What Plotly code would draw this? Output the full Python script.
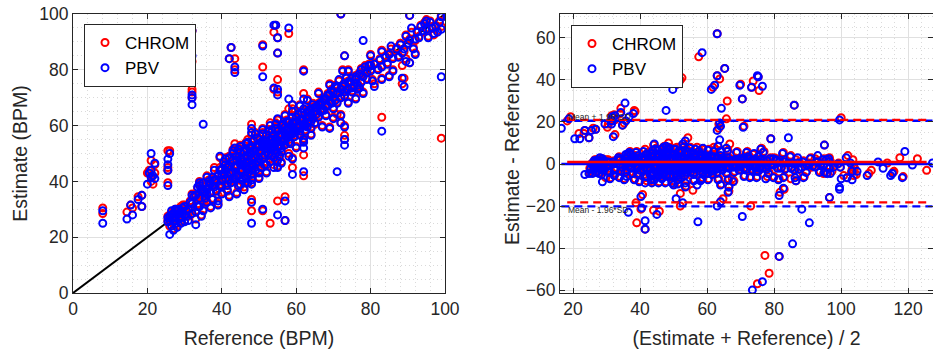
import numpy as np
import plotly.graph_objects as go

# ---------------- data ----------------
# Heart-rate reference and the two camera-based estimates, one entry per window.
reference_bpm = [
    # low-reference outliers
    8, 8, 14.5, 15.5, 16, 17.5, 18.5, 18.5, 20, 20.5,
    21, 21, 21.5, 22, 22, 21, 25.5, 25.5, 25.5, 25.5,
    26,
    # other outliers
    32, 32, 32, 32, 32, 35, 42.5, 42, 43.5, 43.5,
    48, 48, 51, 53, 55, 57, 57, 51, 51, 54,
    54.5, 55, 55, 55, 54, 55, 58, 58, 59, 62,
    62, 62, 62, 59, 59, 71, 73, 73, 73, 72,
    78, 83, 89, 88.5, 99, 72, 89, 103.5, 104.5, 103.5,
    104.5, 104.5, 104.5, 105, 105.5, 73, 90.5,
    # main band 25-41
    25.5, 25.5, 26, 26, 26.5, 26.5, 27, 27, 27.5, 27.5,
    28, 28, 28.5, 29, 29, 29.5, 30, 30, 30.5, 31,
    32, 32, 32.5, 33, 33, 33.5, 33.5, 34, 34, 34.5,
    35, 35.5, 36, 36, 36.5, 37, 37.5, 37.5, 38, 38.5,
    39, 39.5, 39.5, 40, 40, 40, 40.5,
    # main band 41-58.5
    41, 41, 41.5, 42, 42, 42.5, 43, 43, 43.5, 43.5,
    44, 44, 44.5, 45, 45, 45, 45.5, 46, 46, 46.5,
    46.5, 47, 47, 47.5, 47.5, 48, 48, 48, 48, 48,
    48, 48.5, 49, 49, 49.5, 50, 50, 50, 50.5, 51,
    51, 51.5, 52, 52, 52, 52.5, 53, 53, 53.5, 53.5,
    54, 54, 54.5, 54.5, 55, 55, 55, 55.5, 56, 56,
    56, 56.5, 57, 57, 57.5, 58, 58, 58.5,
    # main band 59-65
    59, 59, 59.5, 60, 60, 60.5, 61, 61, 61.5, 62,
    62, 62, 62.5, 63, 63, 63.5, 64, 64, 64.5, 65,
    65,
    # main band 65.5-80
    65.5, 66, 66.5, 67, 67.5, 68, 68, 68.5, 69, 69,
    69.5, 70, 70, 70.5, 71, 71, 71.5, 72, 72, 72.5,
    73, 73, 73.5, 74, 74, 74.5, 75, 75, 75.5, 76,
    76.5, 77, 77, 77.5, 78, 78, 78.5, 79, 79.5, 80,
    # main band 80.5-99
    80.5, 81, 82, 82.5, 83, 83, 83, 84, 84.5, 85,
    85, 85.5, 86, 87, 87.5, 88, 88.5, 89, 89.5, 89.5,
    90, 90.5, 90.5, 91, 91.5, 92, 92.5, 93, 93.5, 94,
    94.5, 95, 95, 95.5, 96, 96.5, 97, 97.5, 98, 98.5,
    99, 99,
    # above 100 BPM
    127, 121.5, 116, 121.5, 117.5, 117.5, 113.5, 110.5, 110.5, 106.5,
    105, 107, 105, 102.5, 100, 100.5, 103.5,
    # dense core 26-40
    26, 26.5, 27, 27.5, 28, 28.5, 29, 29.5, 30, 30.5,
    31, 31.5, 32, 33, 34, 34.5, 35, 35.5, 36, 36.5,
    37, 37.5, 38, 38.5, 39, 39.5, 40, 40,
    # dense core 40.5-60
    40.5, 41, 41.5, 41.5, 42, 42, 42.5, 43, 43, 43.5,
    44, 44, 44.5, 44.5, 45, 45, 45.5, 45.5, 46, 46,
    46.5, 46.5, 47, 47, 47, 47.5, 48, 48, 48, 48.5,
    48.5, 49, 49, 49.5, 49.5, 50, 50, 50.5, 50.5, 51,
    51, 51.5, 51.5, 52, 52, 52.5, 52.5, 53, 53, 53.5,
    53.5, 54, 54, 54, 54.5, 54.5, 55, 55, 55.5, 55.5,
    56, 56, 56.5, 56.5, 57, 57, 57.5, 57.5, 58, 58,
    58.5, 58.5, 59, 59, 59.5, 60,
    # dense core 60-80
    60, 60.5, 61, 61, 61.5, 62, 62.5, 63, 63, 63.5,
    64, 64, 64.5, 65, 65.5, 66, 66.5, 67, 67.5, 68,
    68.5, 69, 69.5, 70, 70.5, 71, 72, 72.5, 73, 74,
    75, 76, 76.5, 77.5, 79, 80,
    # wider spread around the band
    36, 37, 38, 39, 41, 42, 43, 44, 45, 46,
    47, 48, 49, 50, 51, 52, 53, 54, 55, 56,
    57, 58, 59, 60, 61, 62, 63, 64, 66, 67,
    69, 70, 74, 76, 80, 81, 86, 92, 34, 35,
]

chrom_bpm = [
    30.5, 28.5, 29, 31.5, 30.5, 34.5, 35, 31, 43, 44,
    47.5, 40, 39, 46, 43, 42, 51, 45, 39.5, 44,
    51,
    73, 72, 70, 94, 83, 34, 88, 84, 84, 80,
    33.5, 29.5, 29.5, 25, 33, 34.5, 26, 81, 89, 93.5,
    96, 91.5, 86, 76.5, 73, 72, 93, 66, 67.5, 71.5,
    80, 49.5, 42, 45, 48.5, 64, 56.5, 55, 60, 61,
    78, 63, 77, 75, 55.5, 100, 111, 46.5, 52.5, 59.5,
    102, 103, 88.5, 101, 102, 85, 99.5,
    26, 27.5, 24, 28, 25.5, 29, 27, 23, 30, 26.5,
    28.5, 24, 27, 31, 25.5, 31.5, 29, 26, 31, 27.5,
    33, 30, 35, 26.5, 29.5, 37.5, 32, 40, 35.5, 28,
    37, 33.5, 38.5, 35, 40.5, 36.5, 39, 34, 41, 37,
    35, 48.5, 45, 42, 38.5, 36, 46.5,
    41.5, 44.5, 39, 46, 42.5, 40, 47, 44, 53.5, 41.5,
    50, 45.5, 42.5, 51, 47, 38.5, 44.5, 49, 45.5, 41.5,
    52, 47.5, 43.5, 50, 46, 60.5, 56.5, 53, 48.5, 45,
    41.5, 51.5, 49.5, 46, 53.5, 51, 47.5, 44, 55, 52,
    49, 54, 57, 51, 47, 53.5, 55.5, 52, 58, 50,
    54.5, 51.5, 59.5, 56, 53, 48.5, 45.5, 57, 59.5, 55,
    51, 61, 57.5, 53.5, 59, 55, 61.5, 57.5,
    60, 63.5, 56.5, 62, 58.5, 64.5, 60.5, 57, 63, 65.5,
    61, 55.5, 58.5, 63.5, 60, 66, 62, 64.5, 68, 65.5,
    60.5,
    67, 63.5, 68.5, 66, 70, 67.5, 64, 71.5, 69, 59.5,
    73, 70.5, 66.5, 74.5, 72, 68.5, 76, 73.5, 64, 80,
    75.5, 71, 77.5, 73.5, 68.5, 76, 77.5, 72.5, 74.5, 77,
    75, 79, 74, 80.5, 78, 72, 81.5, 79.5, 82, 80,
    76.5, 82.5, 80.5, 84, 87, 81.5, 77, 85, 82.5, 86,
    78, 87.5, 84.5, 88, 85, 89.5, 81.5, 86.5, 92.5, 84,
    89, 91, 82.5, 93.5, 88, 90.5, 94, 92, 96, 93.5,
    97, 98, 95, 92, 97.5, 95.5, 92.5, 96, 94, 97.5,
    99.5, 95.5,
    124, 124, 119, 115.5, 114, 113.5, 114, 107.5, 106, 101,
    103, 102, 98.5, 104.5, 104, 99, 98,
    26.5, 27.5, 29, 24.5, 30, 29.5, 27.5, 28, 31.5, 28.5,
    30.5, 33, 35.5, 34.5, 31.5, 37.5, 39, 36.5, 33, 38,
    39.5, 41, 38.5, 40, 42.5, 39, 44, 40,
    43, 47, 45.5, 36.5, 40, 49, 44, 50.5, 40.5, 46,
    43, 48, 52, 38, 44, 49, 47.5, 41, 51, 43,
    47, 54, 49.5, 40, 45, 52.5, 50.5, 47, 43, 55,
    46, 51.5, 43.5, 48, 56, 53, 49, 51.5, 45.5, 54,
    57.5, 50, 46.5, 53, 55, 50, 58.5, 54, 48, 56,
    52, 57, 53, 49, 61, 51, 55, 58.5, 53, 49.5,
    57, 53, 58.5, 55, 60, 55.5, 62, 56, 59, 57,
    60.5, 54, 61.5, 57.5, 59, 60,
    63.5, 60, 62.5, 58.5, 65, 63, 60.5, 65.5, 61.5, 63.5,
    66.5, 59.5, 63, 67, 64.5, 68, 65.5, 69, 66, 70,
    67.5, 71.5, 68.5, 72.5, 69.5, 74, 70.5, 74.5, 72.5, 76,
    74, 78, 73.5, 76, 77, 82,
    42, 31, 45, 32, 48.5, 35, 51.5, 36, 53, 38,
    55, 39.5, 57.5, 41.5, 59, 43.5, 61, 46, 62, 47,
    64, 50, 66, 52.5, 67.5, 54.5, 69.5, 57, 72, 60,
    75, 63, 80, 70, 85.5, 75, 80, 86, 39, 30,
]

pbv_bpm = [
    29.5, 25, 26.5, 31.5, 28, 33.5, 35, 31, 39, 43,
    50, 41.5, 42, 46.5, 41, 44, 48, 46, 38.5, 44,
    50,
    71, 70, 67.5, 94, 85, 60.5, 88, 84, 81, 79,
    32.5, 25, 30, 52, 28, 33, 26, 77.5, 88.5, 96,
    96, 91.5, 86, 73, 73.5, 71, 95, 69.5, 67.5, 69.5,
    79.5, 52, 43.5, 42.5, 48, 43.5, 53, 55, 59.5, 61,
    90.5, 58, 74, 77, 77.5, 100, 110, 43.5, 48.5, 59.5,
    66.5, 76.5, 88.5, 94, 93.5, 85, 99.5,
    25.5, 27, 21, 27.5, 24, 29.5, 26, 22.5, 30, 27,
    28, 23.5, 26.5, 29.5, 25, 30.5, 28, 25.5, 29.5, 26,
    32, 28.5, 34.5, 24.5, 29, 38, 31, 39.5, 34, 27.5,
    36, 34, 37, 35.5, 40, 36, 38.5, 33.5, 40.5, 36.5,
    33, 49, 44, 42.5, 38, 35.5, 47,
    41, 44, 38.5, 45.5, 43, 39.5, 47.5, 43.5, 52, 41,
    49, 45, 42, 50.5, 46, 39, 44, 48.5, 46, 41,
    51.5, 47, 43, 50.5, 45.5, 59, 57.5, 52.5, 48, 44,
    40.5, 51, 48.5, 46.5, 53, 50.5, 47, 43, 54, 52.5,
    48.5, 53.5, 56.5, 50.5, 46, 53, 55, 52, 58.5, 49.5,
    54, 51, 59, 55.5, 52.5, 47.5, 45, 56.5, 60, 54.5,
    50.5, 60.5, 57, 53, 58.5, 54, 61, 57,
    59.5, 63, 56, 61.5, 58, 64, 60, 56.5, 62.5, 66,
    60.5, 55, 58, 63, 59.5, 65.5, 61.5, 64, 67.5, 65,
    61,
    66.5, 63, 68, 65.5, 69.5, 67, 63.5, 71, 68.5, 59,
    72.5, 70, 66, 74, 71.5, 68, 76.5, 73, 63.5, 79.5,
    75, 70.5, 77, 73, 68, 75.5, 77, 72, 74, 76.5,
    74.5, 78.5, 73.5, 80, 77.5, 71.5, 81, 79, 81.5, 79.5,
    76, 82, 80, 83.5, 86.5, 81, 76.5, 84.5, 82, 85.5,
    77.5, 88.5, 84, 87.5, 84.5, 89, 86, 87.5, 92, 83,
    89.5, 90.5, 82.5, 95, 87.5, 91, 93.5, 91.5, 95.5, 94,
    96.5, 97.5, 94.5, 91.5, 97, 95, 93, 95.5, 93.5, 97,
    99, 94.5,
    127.5, 121, 122, 115, 113, 112, 111.5, 111.5, 105, 103,
    101.5, 99.5, 98.5, 103, 103, 99, 96.5,
    26, 28, 28.5, 25, 29.5, 30, 27, 28.5, 31, 27.5,
    30, 32.5, 35, 35, 31, 37, 39.5, 36, 32.5, 38.5,
    39, 41.5, 38, 40.5, 42, 38.5, 44.5, 40.5,
    42.5, 46, 45, 37, 40.5, 48.5, 43, 50, 41, 45.5,
    42, 47.5, 51.5, 38.5, 43.5, 48, 47, 40.5, 50.5, 42,
    46.5, 53.5, 49, 39.5, 44.5, 52, 50, 46, 42.5, 54.5,
    45.5, 51, 44, 47, 55.5, 52.5, 48, 51, 45, 53.5,
    57, 49.5, 46, 52, 54.5, 49.5, 58, 53.5, 47, 55,
    51.5, 56.5, 52.5, 48.5, 60.5, 50, 54.5, 58, 52.5, 49,
    56.5, 52, 58, 54.5, 59.5, 55, 61.5, 55.5, 58.5, 56,
    60, 53.5, 61, 57, 58.5, 59.5,
    63, 59.5, 62, 58, 64.5, 62, 60, 65, 61, 63,
    66, 59, 62.5, 66.5, 64, 67.5, 65, 68.5, 65.5, 69.5,
    67, 71, 68, 72, 69, 73.5, 70, 74, 72, 75.5,
    73.5, 77.5, 73, 75.5, 76.5, 81.5,
    41.5, 30.5, 44, 31.5, 48, 34.5, 51, 35.5, 52.5, 37,
    54, 39, 57, 41, 58.5, 43, 60, 45, 62.5, 46.5,
    63.5, 49, 65, 52, 67, 54, 69, 56.5, 71.5, 59.5,
    74.5, 62.5, 79.5, 69.5, 85, 74, 79.5, 85.5, 38.5, 29.5,
]

method_names = ["CHROM", "PBV"]

# Bland-Altman summary lines (bias and limits of agreement)
chrom_bias, chrom_upper, chrom_lower = 1.0, 21.0, -18.3
pbv_bias, pbv_upper, pbv_lower = 0.0, 20.6, -20.2
loa_labels = ["Mean + 1.96*SD", "Mean - 1.96*SD"]
loa_label_pos = [22.5, -21.9]

identity_line = [0, 100]
left_ticks = [0, 20, 40, 60, 80, 100]
ba_x_ticks = [20, 40, 60, 80, 100, 120]
ba_y_ticks = [-60, -40, -20, 0, 20, 40, 60]

# ---------------- derived ----------------
ref = np.array(reference_bpm, dtype=float)
chrom = np.array(chrom_bpm, dtype=float)
pbv = np.array(pbv_bpm, dtype=float)
assert len(ref) == len(chrom) == len(pbv)
chrom_avg, chrom_diff = (chrom + ref) / 2, chrom - ref
pbv_avg, pbv_diff = (pbv + ref) / 2, pbv - ref

RED, BLUE = "#ff0000", "#0000ff"
FONT = "Liberation Sans, Arial, Helvetica, sans-serif"
AX = "#262626"

marker_red = dict(symbol="circle-open", size=7, color=RED, line=dict(width=2, color=RED))
marker_blue = dict(symbol="circle-open", size=7, color=BLUE, line=dict(width=2, color=BLUE))

fig = go.Figure()

# left: estimate vs reference
fig.add_trace(go.Scatter(x=identity_line, y=identity_line, mode="lines",
                         line=dict(color="black", width=2), showlegend=False,
                         hoverinfo="skip", xaxis="x", yaxis="y"))
fig.add_trace(go.Scatter(x=ref, y=chrom, mode="markers", name=method_names[0],
                         marker=marker_red, xaxis="x", yaxis="y", legend="legend"))
fig.add_trace(go.Scatter(x=ref, y=pbv, mode="markers", name=method_names[1],
                         marker=marker_blue, xaxis="x", yaxis="y", legend="legend"))

# right: Bland-Altman
fig.add_trace(go.Scatter(x=chrom_avg, y=chrom_diff, mode="markers", name=method_names[0],
                         marker=marker_red, xaxis="x2", yaxis="y2", legend="legend2"))
fig.add_trace(go.Scatter(x=pbv_avg, y=pbv_diff, mode="markers", name=method_names[1],
                         marker=marker_blue, xaxis="x2", yaxis="y2", legend="legend2"))


def hline(avg, level, color, dash, width):
    xs = [avg.min(), avg.max()]
    fig.add_trace(go.Scatter(x=xs, y=[level, level], mode="lines", showlegend=False,
                             hoverinfo="skip", line=dict(color=color, width=width, dash=dash),
                             xaxis="x2", yaxis="y2"))


hline(pbv_avg, pbv_bias, BLUE, "solid", 2.5)
hline(pbv_avg, pbv_upper, BLUE, "8px,5px", 2.3)
hline(pbv_avg, pbv_lower, BLUE, "8px,5px", 2.3)
hline(chrom_avg, chrom_bias, RED, "solid", 2.5)
hline(chrom_avg, chrom_upper, RED, "8px,5px", 2.3)
hline(chrom_avg, chrom_lower, RED, "8px,5px", 2.3)

for txt, yv in zip(loa_labels, loa_label_pos):
    fig.add_annotation(x=17.9, y=yv, xref="x2", yref="y2", text=txt, showarrow=False,
                       xanchor="left", yanchor="middle",
                       font=dict(family=FONT, size=8.5, color=AX))


def axis_style(domain, rng, ticks, minor_dtick, title, standoff, anchor):
    return dict(
        domain=domain, range=rng, tickmode="array", tickvals=ticks,
        showline=True, linecolor=AX, linewidth=1, mirror="allticks",
        ticks="inside", ticklen=5, tickcolor=AX, tickwidth=1,
        showgrid=True, gridcolor="#e0e0e0", gridwidth=1, zeroline=False,
        minor=dict(dtick=minor_dtick, tick0=0, showgrid=True, gridcolor="#dadada",
                   griddash="1px,3px", gridwidth=1, ticks=""),
        tickfont=dict(family=FONT, size=17.5, color=AX),
        title=dict(text=title, font=dict(family=FONT, size=19.5, color=AX), standoff=standoff),
        automargin=False, anchor=anchor,
    )


ydom = [57 / 350, 336 / 350]
fig.update_layout(
    width=933, height=350, margin=dict(l=0, r=0, t=0, b=0),
    template="none", paper_bgcolor="white", plot_bgcolor="white",
    font=dict(family=FONT, color=AX),
    xaxis=axis_style([73 / 933, 445 / 933], [0, 100], left_ticks, 4, "Reference (BPM)", 13, "y"),
    yaxis=axis_style(ydom, [0, 100], left_ticks, 5, "Estimate (BPM)", 6, "x"),
    xaxis2=axis_style([560 / 933, 1.0], [16.1, 127.4], ba_x_ticks, 4,
                      "(Estimate + Reference) / 2", 13, "y2"),
    yaxis2=axis_style(ydom, [-61.4, 71.4], ba_y_ticks, 5, "Estimate - Reference", 0, "x2"),
    legend=dict(x=84 / 933, y=1 - 24 / 350, xanchor="left", yanchor="top",
                bgcolor="white", bordercolor=AX, borderwidth=1,
                font=dict(family=FONT, size=17, color="black"), tracegroupgap=0),
    legend2=dict(x=571 / 933, y=1 - 25 / 350, xanchor="left", yanchor="top",
                 bgcolor="white", bordercolor=AX, borderwidth=1,
                 font=dict(family=FONT, size=17, color="black"), tracegroupgap=0),
    showlegend=True,
)

fig.write_html("out.html", config={"displayModeBar": False},
               post_script="document.body.style.margin='0px';")
